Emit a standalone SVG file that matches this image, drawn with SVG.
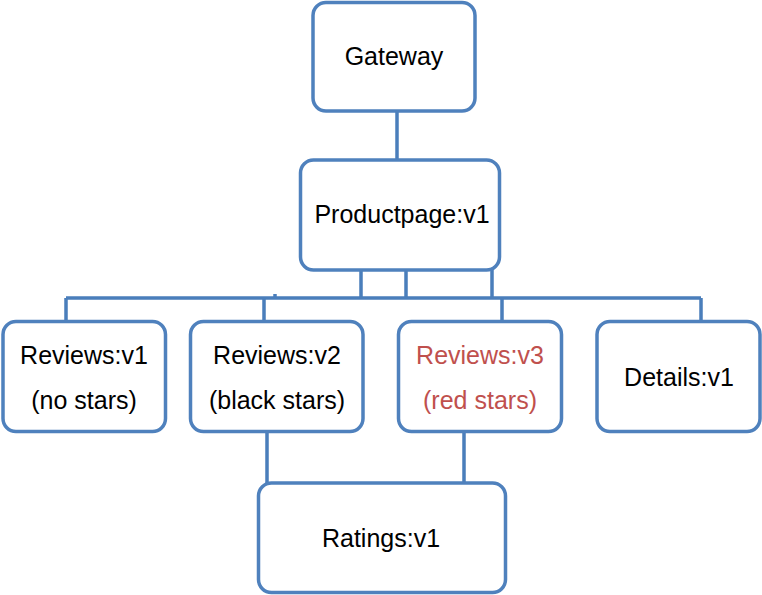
<svg xmlns="http://www.w3.org/2000/svg" width="762" height="595" viewBox="0 0 762 595">
<style>
.box{fill:#fff;stroke:#4F81BD;stroke-width:3.5}
.t{font-family:"Liberation Sans",Arial,sans-serif;font-size:25px;fill:#000;text-anchor:middle}
.red{fill:#C0504D}
.c{fill:none;stroke:#4A7EBB;stroke-width:3.5}
</style>
<rect width="762" height="595" fill="#fff"/>
<g id="connectors">
<path class="c" d="M397 111V160"/>
<path class="c" d="M361 270V298M406 270V298M492 270V298"/>
<path class="c" d="M66 298H701M66 298V321M264 298V321M502 298V321M701 298V321"/>
<path class="c" d="M275 294V297"/>
<path class="c" d="M267 432V483M464 432V483"/>
</g>
<g id="gateway"><rect class="box" x="313" y="2.5" width="162" height="108.5" rx="13"/><text class="t" x="394" y="65">Gateway</text></g>
<g id="productpage"><rect class="box" x="300.5" y="160" width="199" height="110" rx="13"/><text class="t" x="402" y="223">Productpage:v1</text></g>
<g id="reviews-v1"><rect class="box" x="3" y="321.5" width="162.5" height="110" rx="13"/><text class="t" x="84" y="364">Reviews:v1</text><text class="t" x="84" y="409">(no stars)</text></g>
<g id="reviews-v2"><rect class="box" x="190.5" y="321.5" width="172.5" height="110" rx="13"/><text class="t" x="277" y="364">Reviews:v2</text><text class="t" x="277" y="409">(black stars)</text></g>
<g id="reviews-v3"><rect class="box" x="398.5" y="321.5" width="163" height="110" rx="13"/><text class="t red" x="480" y="364">Reviews:v3</text><text class="t red" x="480" y="409">(red stars)</text></g>
<g id="details"><rect class="box" x="597" y="321.5" width="163" height="110" rx="13"/><text class="t" x="679" y="386">Details:v1</text></g>
<g id="ratings"><rect class="box" x="258.5" y="483" width="247" height="109.5" rx="13"/><text class="t" x="381" y="547">Ratings:v1</text></g>
</svg>
